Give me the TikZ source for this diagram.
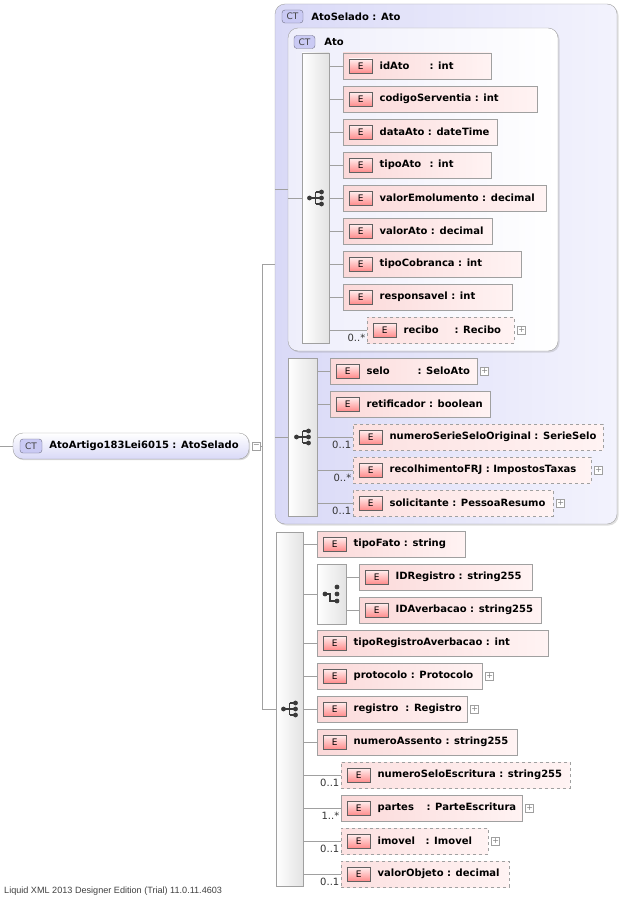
\documentclass[tikz,border=0pt]{standalone}
\usepackage{fontspec}
\setmainfont{DejaVu Sans}
\newfontfamily\footfont{Liberation Sans}
\usetikzlibrary{positioning}
\usetikzlibrary{shadows}
\definecolor{lnGray}{HTML}{A0A0A0}
\definecolor{elemPink}{HTML}{FBD9D9}
\definecolor{elemLight}{HTML}{FFF3F3}
\definecolor{ctOuter}{HTML}{D9D9F7}
\definecolor{ctOuterR}{HTML}{F3F3FD}
\definecolor{ctInner}{HTML}{EEEEFB}
\definecolor{ctBadge}{HTML}{CACAF4}
\definecolor{ctEdge}{HTML}{8C8CA8}
\definecolor{iconDark}{HTML}{3A3A3A}
\tikzset{conn/.style={draw=lnGray,line width=0.7pt}}
\tikzset{elem/.style={draw=lnGray,left color=elemPink,right color=elemLight,minimum height=26pt,inner sep=0,anchor=west,
  drop shadow={shadow xshift=1.2pt,shadow yshift=-1.2pt,opacity=.3}}}
\tikzset{optelem/.style={draw=lnGray,dashed,left color=elemPink!80!white,right color=elemLight,minimum height=26pt,inner sep=0,anchor=west}}
\tikzset{ebadge/.style={draw=iconDark!80,top color=red!6!white,bottom color=red!45!white,minimum width=23pt,minimum height=14pt,inner sep=0,
  font=\fontsize{9}{10}\selectfont}}
\tikzset{etext/.style={inner sep=0,anchor=west,font=\fontsize{10}{12}\selectfont\bfseries}}
\tikzset{mult/.style={inner sep=0,anchor=base east,font=\fontsize{10}{12}\selectfont,text=black!80}}
\tikzset{expbox/.style={draw=lnGray,fill=white,minimum width=8pt,minimum height=8pt,inner sep=0,text=gray,
  font=\fontsize{8}{8}\selectfont}}
\tikzset{seqbar/.style={draw=lnGray,left color=white,right color=gray!22,inner sep=0}}
\tikzset{ctbadge/.style={draw=ctEdge!80!black,fill=ctBadge,rounded corners=3pt,minimum width=21pt,minimum height=13pt,inner sep=0,
  text=black!75,font=\fontsize{9}{10}\selectfont}}
\tikzset{ctbox/.style={draw=lnGray,rounded corners=10pt,inner sep=0}}
\tikzset{seqicon/.pic={
  \fill[iconDark] (-6,0) circle (2.4pt);
  \draw[iconDark,line width=1.1pt] (-6,0) -- (0,0) (0,-6) -- (0,6);
  \foreach \k in {-6,0,6} { \draw[iconDark,line width=1.1pt] (0,\k) -- (6,\k); \fill[iconDark] (6,\k) circle (2.4pt); }
}}
\tikzset{choiceicon/.pic={
  \fill[iconDark] (-6.5,0) circle (2.4pt);
  \draw[iconDark,line width=1.1pt] (-6.5,0) -- (-1.5,0) -- (-1.5,7) -- (5.5,7);
  \foreach \k in {-7,0,7} { \fill[iconDark] (5.5,\k) circle (2.4pt); }
}}

\begin{document}
\begin{tikzpicture}[x=1pt,y=-1pt]
\useasboundingbox[fill=white] (0,0) rectangle (630,899);

% complex types
\node[ctbox,left color=ctOuter,right color=ctOuterR,minimum width=342pt,minimum height=520pt,
  drop shadow={shadow xshift=1.5pt,shadow yshift=-1.5pt,opacity=.25}] (ctSel) at (446,264) {};
\node[ctbadge] (BctSel) at (292.5,16.5) {CT};
\node[etext,right=8pt of BctSel] (TctSel) {AtoSelado : Ato};
\node[ctbox,left color=ctInner,right color=white,minimum width=270pt,minimum height=323pt,
  drop shadow={shadow xshift=1.5pt,shadow yshift=-1.5pt,opacity=.25}] (ctAto) at (423,189.5) {};
\node[ctbadge] (BctAto) at (304.5,42) {CT};
\node[etext,right=9pt of BctAto] (TctAto) {Ato};

% root element
\coordinate (rootIn) at (0,446);
\node[ctbox,top color=white,bottom color=ctOuter,minimum width=236pt,minimum height=26pt,
  drop shadow={shadow xshift=1.2pt,shadow yshift=-1.2pt,opacity=.3}] (root) at (131,446) {};
\node[ctbadge,minimum width=22pt,minimum height=14pt,right=7pt of root.west] (Broot) {CT};
\node[etext,right=7pt of Broot] (Troot) {AtoArtigo183Lei6015 : AtoSelado};
\node[expbox,right=3pt of root] (Xroot) {\raisebox{0.5pt}{−}};
\draw[conn] (rootIn) -- (root.west);

% compositors
\node[seqbar,minimum width=27pt,minimum height=290pt] (bar1) at (315.5,198) {};
\node[seqbar,minimum width=29pt,minimum height=158pt] (bar2) at (302.5,437) {};
\node[seqbar,minimum width=27pt,minimum height=354pt] (bar3) at (289.5,709) {};
\node[seqbar,minimum width=29pt,minimum height=60pt] (choice) at (331.5,594) {};
\pic at (bar1.center) {seqicon};
\pic at (bar2.center) {seqicon};
\pic at (bar3.center) {seqicon};
\pic at (choice.center) {choiceicon};

% trunk
\coordinate (jn) at (262,446);
\draw[conn] (Xroot.east) -- (jn);
\draw[conn] (jn |- ctSel.west) -- (jn |- bar3.west);
\draw[conn] (jn |- ctSel.west) -- (ctSel.west);
\draw[conn] (jn |- bar3.west) -- (bar3.west);
\draw[conn] (ctSel.west |- ctAto.west) -- (ctAto.west);
\draw[conn] (ctAto.west |- bar1.west) -- (bar1.west);
\draw[conn] (ctSel.west |- bar2.west) -- (bar2.west);
\draw[conn] (bar3.east |- choice.west) -- (choice.west);

% elements of Ato
\foreach \y/\nm/\w/\txt in {66/idAto/148/{\makebox[50pt][l]{idAto}: int},
  99/codigoServentia/194/{codigoServentia : int},
  132/dataAto/154/{dataAto : dateTime},
  165/tipoAto/148/{\makebox[50pt][l]{tipoAto}: int},
  198/valorEmolumento/203/{valorEmolumento : decimal},
  231/valorAto/149/{valorAto : decimal},
  264/tipoCobranca/178/{tipoCobranca : int},
  297/responsavel/169/{responsavel : int}}
{
  \node[elem,minimum width=\w pt] (\nm) at (343,\y) {};
  \node[ebadge,right=6pt of \nm.west] (E\nm) {E};
  \node[etext,right=7pt of E\nm] (T\nm) {\txt};
  \draw[conn] (bar1.east |- \nm.west) -- (\nm.west);
}

% elements of AtoSelado and of the root sequence
\foreach \y/\nm/\w/\x/\txt in {371/selo/147/330/{\makebox[51pt][l]{selo}: SeloAto},
  404/retificador/160/330/{retificador : boolean},
  544/tipoFato/148/317/{tipoFato : string},
  643/tipoRegistroAverbacao/231/317/{tipoRegistroAverbacao : int},
  676/protocolo/165/317/{protocolo : Protocolo},
  709/registro/150/317/{registro\ \ : Registro},
  742/numeroAssento/200/317/{numeroAssento : string255},
  577/IDRegistro/173/359/{IDRegistro : string255},
  610/IDAverbacao/182/359/{IDAverbacao : string255}}
{
  \node[elem,minimum width=\w pt] (\nm) at (\x,\y) {};
  \node[ebadge,right=6pt of \nm.west] (E\nm) {E};
  \node[etext,right=7pt of E\nm] (T\nm) {\txt};
}
\foreach \nm in {selo,retificador} \draw[conn] (bar2.east |- \nm.west) -- (\nm.west);
\foreach \nm in {tipoFato,tipoRegistroAverbacao,protocolo,registro,numeroAssento} \draw[conn] (bar3.east |- \nm.west) -- (\nm.west);
\foreach \nm in {IDRegistro,IDAverbacao} \draw[conn] (choice.east |- \nm.west) -- (\nm.west);

% elements with occurrence labels
\foreach \y/\nm/\w/\x/\m/\sty/\bar/\txt in {330/recibo/147/367/0..*/optelem/bar1/{\makebox[51pt][l]{recibo}: Recibo},
  437/numeroSerieSeloOriginal/250/353/0..1/optelem/bar2/{numeroSerieSeloOriginal : SerieSelo},
  470/recolhimentoFRJ/238/353/0..*/optelem/bar2/{recolhimentoFRJ : ImpostosTaxas},
  503/solicitante/200/353/0..1/optelem/bar2/{solicitante : PessoaResumo},
  775/numeroSeloEscritura/229/341/0..1/optelem/bar3/{numeroSeloEscritura : string255},
  808/partes/181/341/1..*/elem/bar3/{\makebox[49pt][l]{partes}: ParteEscritura},
  841/imovel/147/341/0..1/optelem/bar3/{\makebox[48pt][l]{imovel}: Imovel},
  874/valorObjeto/168/341/0..1/optelem/bar3/{valorObjeto : decimal}}
{
  \node[\sty,minimum width=\w pt] (\nm) at (\x,\y) {};
  \node[ebadge,right=6pt of \nm.west] (E\nm) {E};
  \node[etext,right=7pt of E\nm] (T\nm) {\txt};
  \node[mult] (M\nm) at ([xshift=-1.5pt,yshift=2pt]\nm.south west) {\m};
  \draw[conn] (\bar.east |- \nm.west) -- (\nm.west);
}

% expand boxes
\foreach \nm in {recibo,selo,recolhimentoFRJ,solicitante,protocolo,registro,partes,imovel}
  \node[expbox,right=3pt of \nm] (X\nm) {+};

\node[inner sep=0,anchor=west,text=black!75,font=\footfont\fontsize{9.1}{10}\selectfont] (credit) at (4,891)
  {Liquid XML 2013 Designer Edition (Trial) 11.0.11.4603};
\end{tikzpicture}
\end{document}
